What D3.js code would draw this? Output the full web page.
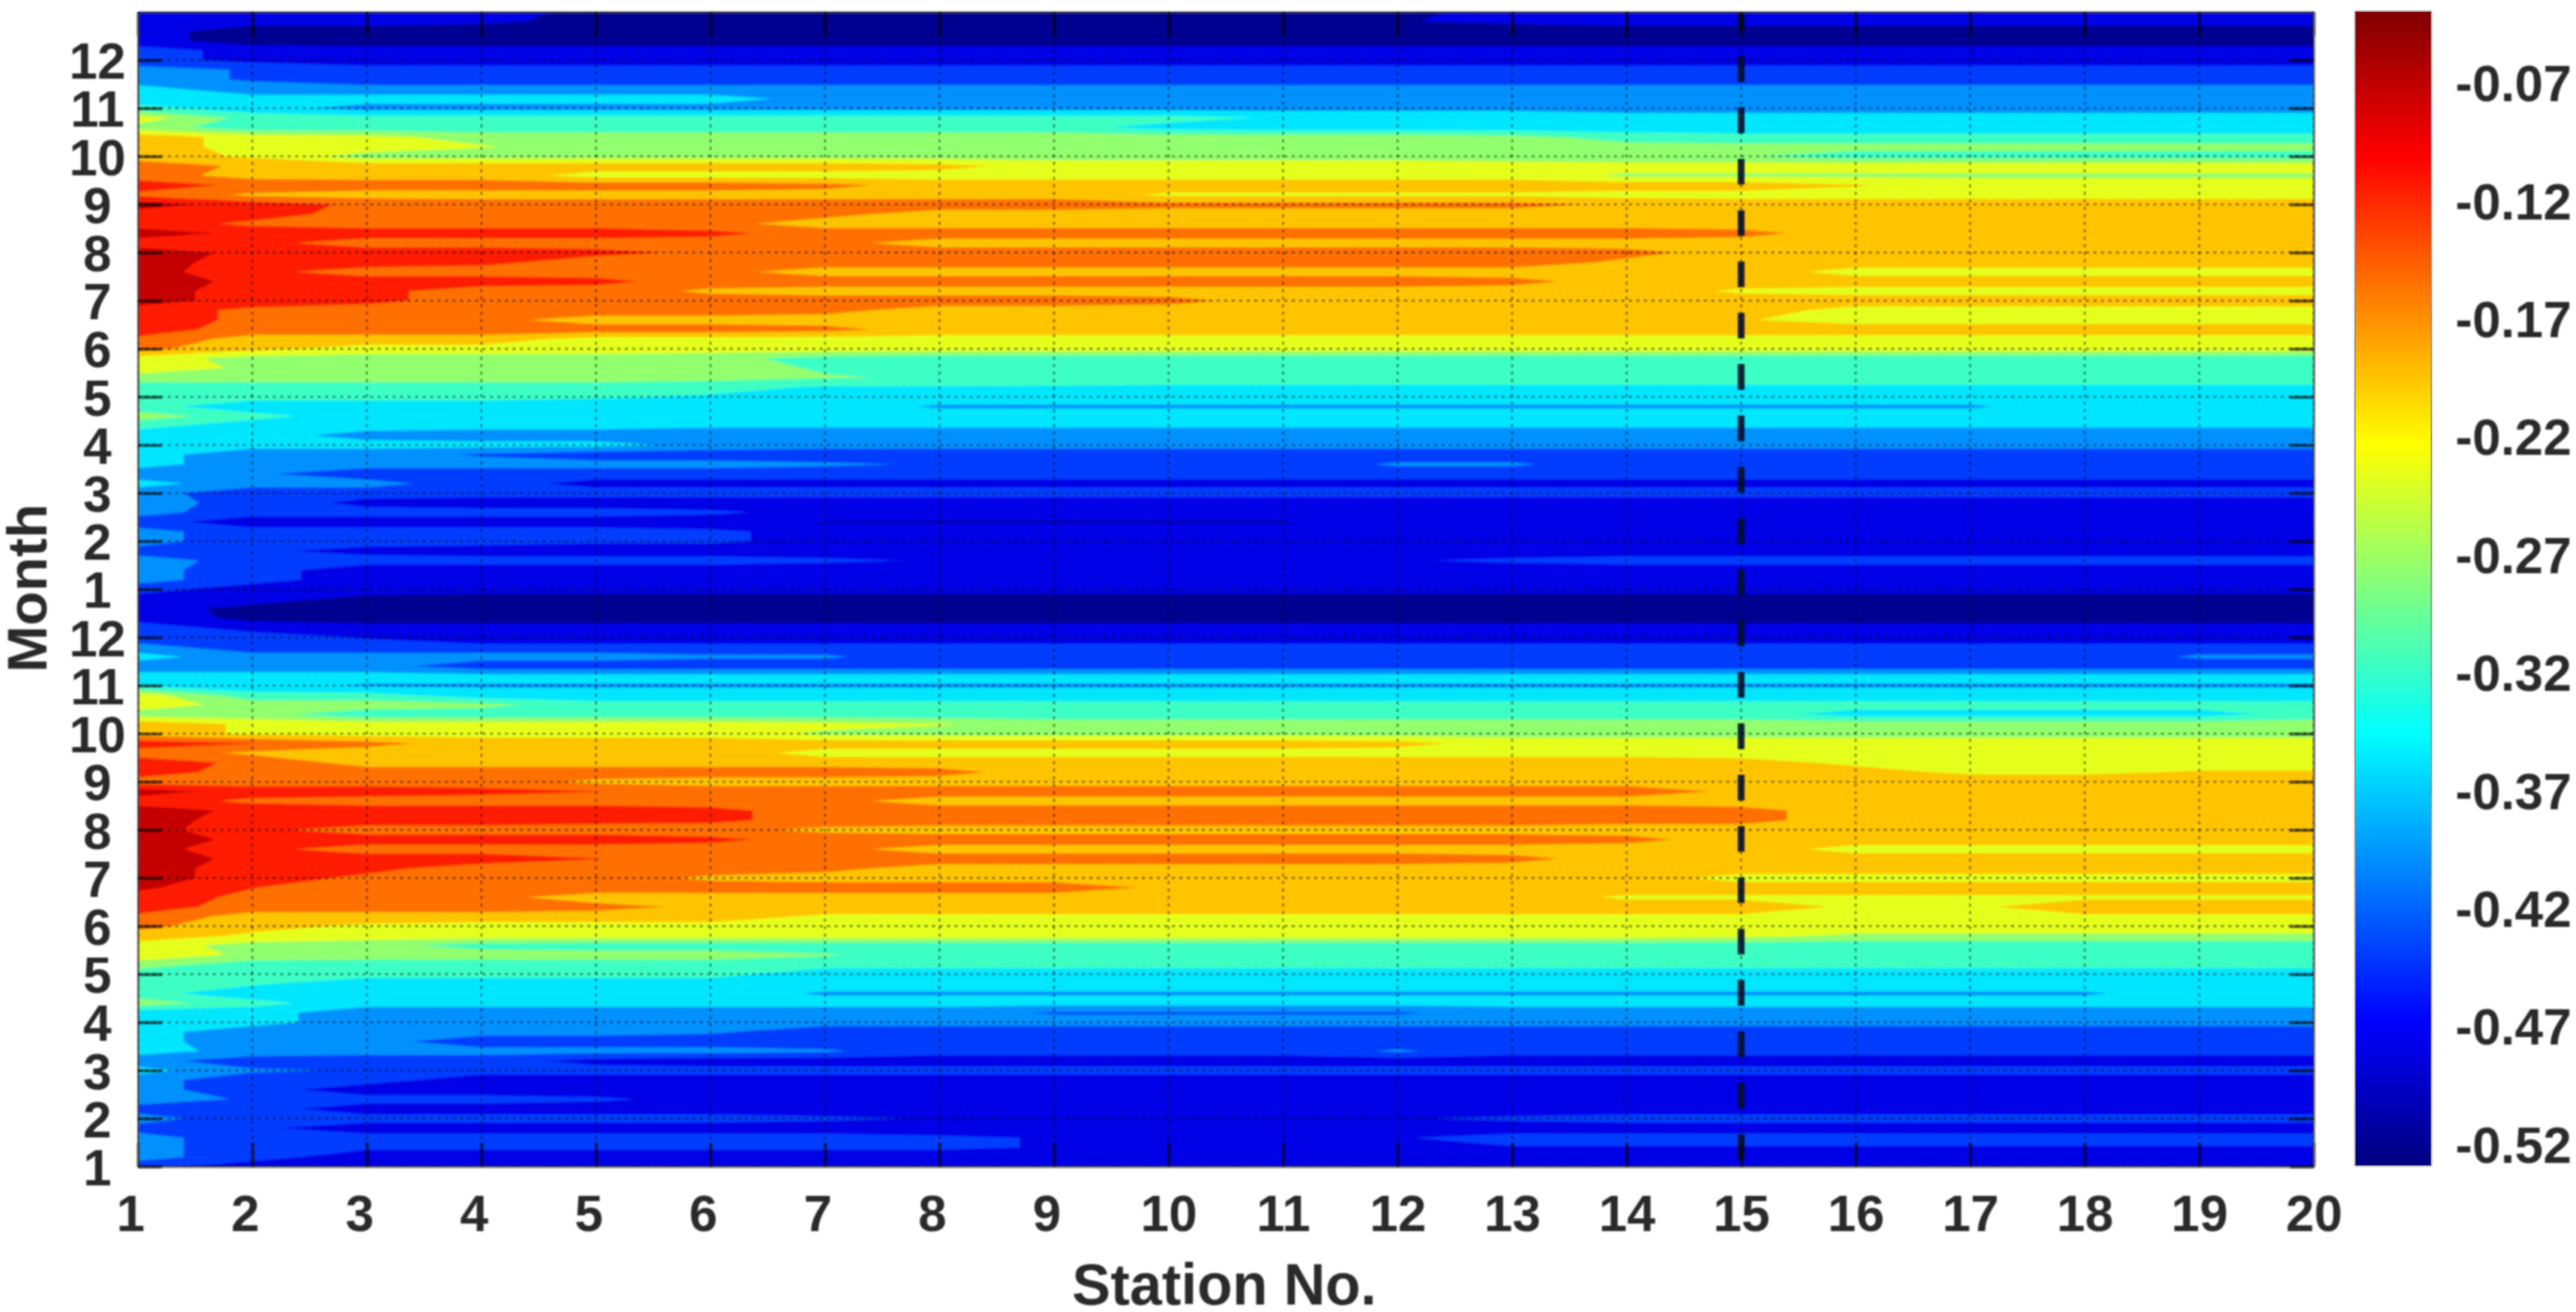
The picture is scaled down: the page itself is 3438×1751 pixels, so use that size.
<!DOCTYPE html>
<html>
<head>
<meta charset="utf-8">
<script src="https://cdn.jsdelivr.net/npm/d3@7"></script>
<style>
    body { margin: 0; background: #fff; }
    text { font-family: "Liberation Sans", Arial, sans-serif; font-weight: bold; fill: #2b2b2b; }
</style>
</head>
<body>
<svg width="3438" height="1751"></svg>
<script>
const stations = [1, 2, 3, 4, 5, 6, 7, 8, 9, 10, 11, 12, 13, 14, 15, 16, 17, 18, 19, 20];
const monthLabels = [1, 2, 3, 4, 5, 6, 7, 8, 9, 10, 11, 12, 1, 2, 3, 4, 5, 6, 7, 8, 9, 10, 11, 12];
const colorTicks = [-0.07, -0.12, -0.17, -0.22, -0.27, -0.32, -0.37, -0.42, -0.47, -0.52];
const dividerStation = [15];
const colorRange = [-0.529, -0.04];
// contour levels, same units as the colorbar
const levels = [-0.488, -0.447, -0.406, -0.366, -0.325, -0.284, -0.243, -0.203, -0.162, -0.121, -0.08];

// in hundredths. one row per 1/5 month, top of the plot first, one value per station
const rows = [
[-47,-47,-47,-47,-50,-51,-51,-51,-51,-51,-51,-50,-47,-47,-47,-47,-47,-47,-47,-47],
[-47,-47,-47,-48,-50,-51,-51,-51,-51,-51,-51,-49,-48,-47,-47,-47,-47,-47,-47,-47],
[-47,-51,-51,-51,-51,-51,-51,-51,-51,-51,-51,-51,-51,-51,-51,-51,-51,-51,-51,-51],
[-47,-51,-51,-51,-51,-51,-51,-51,-51,-51,-51,-51,-51,-51,-51,-51,-51,-51,-51,-51],
[-43,-46,-47,-47,-47,-47,-47,-47,-47,-47,-47,-47,-47,-47,-47,-47,-47,-47,-47,-47],
[-43,-46,-47,-47,-47,-47,-47,-47,-47,-47,-47,-47,-47,-47,-47,-47,-47,-47,-47,-47],
[-39,-41,-43,-43,-43,-43,-43,-43,-43,-43,-43,-43,-43,-43,-43,-43,-43,-43,-43,-43],
[-39,-41,-43,-43,-43,-43,-43,-43,-43,-43,-43,-43,-43,-43,-43,-43,-43,-43,-43,-43],
[-35,-39,-39,-39,-39,-39,-39,-39,-39,-39,-39,-39,-39,-39,-39,-39,-39,-39,-39,-39],
[-35,-35,-35,-35,-35,-35,-38,-39,-39,-39,-39,-39,-39,-39,-39,-39,-39,-39,-39,-39],
[-31,-35,-38,-38,-38,-38,-38,-38,-38,-38,-38,-38,-38,-38,-38,-38,-38,-38,-38,-38],
[-22,-30,-31,-31,-31,-31,-31,-31,-31,-31,-33,-33,-33,-35,-35,-35,-35,-35,-35,-35],
[-26,-31,-31,-31,-31,-31,-31,-31,-31,-34,-35,-35,-35,-35,-35,-35,-35,-35,-35,-35],
[-18,-22,-23,-26,-26,-26,-26,-26,-26,-26,-26,-26,-27,-30,-31,-31,-31,-31,-31,-31],
[-18,-22,-22,-24,-26,-26,-26,-26,-26,-26,-26,-26,-26,-27,-27,-27,-27,-27,-27,-27],
[-18,-21,-26,-26,-26,-26,-26,-26,-26,-26,-26,-26,-27,-28,-28,-30,-30,-30,-30,-30],
[-14,-17,-18,-18,-18,-18,-18,-19,-22,-22,-22,-22,-22,-22,-22,-22,-22,-22,-22,-22],
[-14,-18,-18,-18,-22,-22,-22,-22,-22,-22,-22,-22,-22,-25,-25,-25,-25,-25,-25,-25],
[-10,-13,-14,-14,-14,-14,-15,-18,-18,-18,-18,-18,-18,-18,-18,-20,-22,-22,-22,-22],
[-13,-17,-18,-18,-18,-18,-18,-18,-18,-21,-21,-21,-21,-22,-22,-22,-22,-22,-22,-22],
[-6,-10,-13,-14,-14,-14,-14,-14,-14,-15,-15,-15,-15,-17,-18,-18,-18,-18,-18,-18],
[-10,-10,-14,-14,-14,-14,-15,-18,-18,-18,-18,-18,-18,-18,-18,-18,-18,-18,-18,-18],
[-10,-13,-14,-14,-14,-15,-18,-18,-18,-18,-18,-18,-18,-18,-18,-18,-18,-18,-18,-18],
[-6,-9,-10,-10,-10,-11,-14,-14,-14,-14,-14,-14,-14,-14,-15,-18,-18,-18,-18,-18],
[-10,-11,-14,-14,-14,-14,-15,-18,-18,-18,-18,-18,-18,-18,-18,-18,-18,-18,-18,-18],
[-6,-9,-10,-10,-11,-13,-14,-14,-14,-14,-14,-14,-14,-15,-18,-18,-18,-20,-20,-20],
[-6,-10,-10,-11,-14,-14,-14,-14,-14,-14,-14,-14,-14,-17,-18,-18,-18,-18,-18,-18],
[-6,-11,-14,-14,-14,-15,-18,-18,-18,-18,-18,-18,-18,-18,-18,-22,-22,-22,-22,-22],
[-6,-9,-10,-10,-11,-14,-14,-14,-14,-14,-14,-14,-15,-18,-18,-18,-18,-18,-18,-18],
[-6,-10,-11,-14,-14,-17,-18,-18,-18,-18,-18,-18,-18,-18,-21,-22,-22,-22,-22,-22],
[-6,-10,-11,-14,-14,-14,-14,-14,-14,-15,-18,-18,-18,-18,-18,-18,-18,-18,-18,-18],
[-10,-13,-14,-14,-14,-14,-15,-18,-18,-18,-18,-18,-18,-18,-18,-22,-22,-22,-22,-22],
[-10,-13,-14,-15,-18,-18,-18,-18,-18,-18,-18,-18,-18,-18,-20,-22,-22,-22,-22,-22],
[-10,-14,-14,-14,-14,-14,-15,-18,-18,-18,-18,-18,-18,-18,-18,-18,-18,-18,-18,-18],
[-13,-18,-18,-18,-22,-22,-22,-22,-22,-22,-22,-22,-22,-22,-22,-22,-22,-22,-22,-22],
[-15,-19,-22,-22,-22,-22,-22,-22,-22,-22,-22,-22,-22,-22,-22,-22,-22,-22,-22,-22],
[-22,-26,-26,-26,-26,-27,-30,-31,-31,-31,-31,-31,-31,-31,-31,-31,-31,-31,-31,-31],
[-22,-25,-26,-26,-26,-26,-29,-29,-29,-31,-31,-31,-31,-29,-31,-31,-31,-29,-29,-29],
[-26,-26,-26,-26,-26,-27,-28,-29,-30,-31,-31,-31,-31,-31,-31,-31,-31,-31,-31,-31],
[-31,-31,-31,-31,-31,-31,-33,-33,-33,-33,-33,-33,-33,-33,-33,-33,-33,-33,-33,-33],
[-31,-31,-31,-31,-32,-33,-35,-35,-35,-35,-35,-35,-35,-35,-35,-35,-35,-35,-35,-35],
[-31,-35,-35,-35,-35,-35,-35,-37,-37,-37,-37,-37,-37,-37,-37,-37,-37,-35,-35,-35],
[-26,-31,-35,-35,-35,-35,-35,-35,-35,-35,-35,-35,-35,-35,-35,-35,-35,-35,-35,-35],
[-31,-35,-35,-35,-35,-36,-36,-36,-36,-36,-36,-36,-36,-36,-36,-36,-36,-36,-36,-36],
[-35,-35,-38,-39,-39,-39,-39,-39,-39,-39,-39,-39,-39,-39,-39,-39,-39,-39,-39,-39],
[-35,-35,-35,-35,-35,-38,-39,-39,-39,-39,-39,-39,-39,-39,-39,-39,-39,-39,-39,-39],
[-35,-39,-39,-41,-43,-43,-43,-43,-43,-43,-43,-43,-43,-43,-43,-43,-43,-43,-43,-43],
[-35,-39,-39,-39,-39,-39,-40,-41,-43,-43,-43,-40,-40,-43,-43,-43,-43,-43,-43,-43],
[-39,-40,-43,-43,-43,-43,-43,-43,-43,-43,-43,-43,-43,-43,-43,-43,-43,-43,-43,-43],
[-35,-39,-39,-43,-46,-46,-46,-46,-46,-46,-46,-46,-46,-46,-46,-46,-46,-46,-46,-46],
[-39,-43,-43,-43,-43,-43,-43,-43,-43,-43,-43,-43,-43,-43,-43,-43,-43,-43,-43,-43],
[-39,-42,-46,-47,-47,-47,-47,-47,-47,-47,-47,-47,-47,-47,-47,-47,-47,-47,-47,-47],
[-39,-43,-43,-43,-43,-44,-46,-47,-47,-47,-47,-47,-47,-47,-47,-47,-47,-47,-47,-47],
[-43,-47,-47,-47,-47,-47,-49,-49,-49,-49,-49,-47,-47,-47,-47,-47,-47,-47,-47,-47],
[-39,-43,-43,-43,-43,-44,-46,-47,-47,-47,-47,-47,-47,-47,-47,-47,-47,-47,-47,-47],
[-39,-43,-43,-43,-44,-44,-46,-47,-47,-47,-47,-47,-47,-47,-47,-47,-47,-47,-47,-47],
[-42,-44,-46,-47,-47,-47,-47,-47,-47,-47,-47,-47,-47,-47,-47,-47,-47,-47,-47,-47],
[-39,-42,-43,-43,-43,-43,-44,-45,-47,-47,-47,-45,-44,-43,-43,-43,-43,-43,-43,-43],
[-39,-43,-47,-47,-47,-47,-47,-47,-47,-47,-47,-47,-47,-47,-47,-47,-47,-47,-47,-47],
[-39,-43,-47,-47,-47,-47,-47,-47,-47,-47,-47,-47,-47,-47,-47,-47,-47,-47,-47,-47],
[-43,-47,-47,-47,-47,-47,-47,-47,-47,-47,-47,-47,-47,-47,-47,-47,-47,-47,-47,-47],
[-47,-47,-50,-51,-51,-51,-51,-51,-51,-51,-51,-51,-51,-51,-51,-51,-51,-51,-51,-51],
[-47,-50,-51,-51,-51,-51,-51,-51,-51,-51,-51,-51,-51,-51,-51,-51,-51,-51,-51,-51],
[-46,-50,-51,-51,-51,-51,-51,-51,-51,-51,-51,-51,-51,-51,-51,-51,-51,-51,-51,-51],
[-43,-46,-47,-47,-47,-47,-47,-47,-47,-47,-47,-47,-47,-47,-47,-47,-47,-47,-47,-47],
[-43,-43,-45,-48,-48,-48,-48,-48,-48,-48,-48,-48,-48,-48,-48,-48,-48,-48,-48,-48],
[-39,-43,-43,-43,-43,-43,-43,-43,-43,-43,-43,-43,-43,-43,-43,-43,-43,-43,-43,-43],
[-35,-39,-39,-39,-39,-40,-40,-43,-43,-43,-43,-43,-43,-43,-43,-43,-43,-43,-40,-40],
[-39,-39,-39,-43,-43,-43,-43,-43,-43,-43,-43,-43,-43,-43,-43,-43,-43,-43,-43,-43],
[-35,-35,-35,-35,-35,-35,-35,-35,-35,-35,-35,-35,-35,-35,-35,-35,-35,-35,-35,-35],
[-33,-35,-37,-37,-37,-37,-37,-37,-37,-37,-37,-37,-37,-37,-37,-37,-37,-37,-37,-37],
[-22,-31,-31,-35,-35,-35,-35,-35,-35,-35,-35,-35,-35,-35,-35,-35,-35,-35,-35,-35],
[-22,-26,-26,-27,-31,-31,-31,-31,-31,-31,-31,-31,-31,-31,-31,-31,-31,-31,-31,-31],
[-26,-27,-31,-31,-31,-31,-31,-31,-31,-31,-31,-31,-31,-31,-31,-34,-34,-34,-34,-31],
[-18,-21,-22,-22,-22,-22,-23,-24,-26,-26,-26,-26,-26,-26,-26,-26,-26,-26,-26,-26],
[-18,-21,-22,-22,-22,-22,-25,-26,-26,-26,-26,-26,-26,-26,-26,-26,-26,-26,-26,-26],
[-10,-12,-15,-18,-18,-18,-18,-18,-18,-18,-18,-19,-22,-22,-22,-22,-22,-22,-22,-22],
[-14,-17,-18,-18,-18,-18,-22,-22,-22,-22,-22,-22,-22,-22,-22,-22,-22,-22,-22,-22],
[-10,-13,-18,-18,-18,-18,-18,-18,-18,-18,-18,-18,-18,-18,-19,-21,-22,-22,-22,-22],
[-10,-14,-14,-14,-14,-14,-14,-15,-18,-18,-18,-18,-18,-18,-18,-19,-21,-21,-20,-20],
[-14,-14,-14,-14,-17,-18,-18,-18,-18,-18,-18,-18,-18,-18,-18,-18,-18,-18,-18,-18],
[-6,-10,-10,-11,-12,-14,-14,-14,-14,-14,-14,-14,-14,-14,-17,-18,-18,-18,-18,-18],
[-10,-13,-14,-14,-14,-14,-15,-18,-18,-18,-18,-18,-18,-18,-18,-18,-18,-18,-18,-18],
[-6,-9,-10,-10,-10,-11,-14,-14,-14,-14,-14,-14,-14,-14,-15,-18,-18,-18,-18,-18],
[-6,-10,-10,-10,-11,-11,-14,-14,-14,-14,-14,-14,-14,-15,-15,-18,-18,-18,-18,-18],
[-6,-11,-14,-14,-14,-15,-17,-18,-18,-18,-18,-18,-18,-18,-18,-18,-18,-18,-18,-18],
[-6,-9,-10,-10,-10,-11,-14,-14,-14,-14,-14,-14,-14,-15,-18,-18,-18,-18,-18,-18],
[-6,-11,-14,-14,-14,-14,-15,-18,-18,-18,-18,-18,-18,-18,-18,-22,-22,-22,-22,-22],
[-6,-9,-10,-10,-12,-14,-14,-14,-14,-14,-14,-14,-15,-18,-18,-18,-18,-18,-18,-18],
[-6,-10,-11,-14,-14,-14,-15,-18,-18,-18,-18,-18,-18,-18,-18,-18,-18,-18,-18,-18],
[-6,-10,-13,-14,-14,-17,-18,-18,-18,-18,-18,-18,-18,-18,-22,-22,-22,-22,-22,-22],
[-7,-12,-14,-14,-14,-14,-14,-14,-14,-17,-18,-18,-18,-18,-18,-18,-18,-18,-18,-18],
[-10,-13,-14,-15,-18,-18,-18,-18,-18,-18,-18,-18,-18,-21,-21,-21,-21,-21,-21,-21],
[-10,-14,-14,-14,-15,-17,-18,-18,-18,-18,-18,-18,-18,-18,-18,-21,-21,-18,-18,-18],
[-13,-18,-18,-18,-18,-18,-21,-21,-21,-21,-21,-21,-21,-21,-21,-21,-21,-21,-21,-21],
[-15,-19,-21,-22,-22,-22,-22,-22,-22,-22,-22,-22,-22,-22,-22,-22,-22,-22,-22,-22],
[-18,-21,-22,-22,-22,-22,-22,-22,-22,-22,-22,-22,-22,-22,-23,-25,-25,-25,-25,-25],
[-22,-26,-27,-30,-31,-31,-31,-31,-31,-31,-31,-31,-31,-31,-31,-31,-31,-31,-31,-31],
[-22,-25,-26,-26,-26,-26,-28,-31,-31,-31,-31,-31,-31,-31,-31,-31,-31,-31,-31,-31],
[-26,-31,-31,-31,-31,-31,-31,-31,-31,-31,-31,-31,-31,-31,-31,-31,-31,-31,-31,-31],
[-31,-31,-31,-31,-31,-31,-35,-35,-35,-35,-35,-35,-35,-35,-35,-35,-35,-35,-35,-35],
[-31,-32,-35,-35,-35,-35,-35,-35,-35,-35,-35,-35,-35,-35,-35,-35,-35,-35,-35,-35],
[-31,-35,-35,-35,-35,-35,-37,-37,-37,-37,-37,-37,-37,-37,-37,-37,-37,-37,-35,-35],
[-26,-31,-35,-35,-35,-35,-35,-35,-35,-35,-35,-35,-35,-35,-35,-35,-35,-35,-35,-35],
[-35,-35,-39,-39,-39,-39,-39,-39,-41,-41,-41,-41,-39,-39,-39,-39,-39,-39,-39,-39],
[-35,-35,-39,-39,-39,-39,-39,-39,-39,-39,-39,-39,-39,-39,-39,-39,-39,-39,-39,-39],
[-35,-39,-39,-39,-39,-40,-43,-43,-43,-43,-43,-43,-43,-43,-43,-43,-43,-43,-43,-43],
[-35,-39,-39,-43,-43,-43,-43,-43,-43,-43,-43,-43,-43,-43,-43,-43,-43,-43,-43,-43],
[-35,-38,-39,-39,-39,-39,-40,-43,-43,-43,-43,-40,-43,-43,-43,-43,-43,-43,-43,-43],
[-39,-43,-43,-43,-46,-47,-47,-47,-47,-47,-47,-47,-47,-47,-47,-47,-47,-47,-47,-47],
[-35,-40,-41,-43,-43,-43,-43,-43,-43,-43,-43,-43,-43,-43,-43,-43,-43,-43,-43,-43],
[-39,-43,-43,-47,-47,-47,-47,-47,-47,-47,-47,-47,-47,-47,-47,-47,-47,-47,-47,-47],
[-39,-43,-47,-47,-47,-47,-47,-47,-47,-47,-47,-47,-47,-47,-47,-47,-47,-47,-47,-47],
[-39,-41,-43,-43,-44,-46,-47,-47,-47,-47,-47,-47,-47,-47,-47,-47,-47,-47,-47,-47],
[-42,-43,-47,-47,-47,-47,-47,-47,-47,-47,-47,-47,-47,-47,-47,-47,-47,-47,-47,-47],
[-39,-43,-43,-43,-43,-43,-44,-45,-47,-47,-47,-45,-44,-43,-43,-43,-43,-43,-43,-43],
[-42,-44,-47,-47,-47,-47,-47,-47,-47,-47,-47,-47,-47,-47,-47,-47,-47,-47,-47,-47],
[-39,-43,-43,-43,-43,-43,-43,-44,-45,-47,-47,-45,-43,-43,-43,-43,-43,-43,-43,-43],
[-39,-43,-44,-44,-44,-44,-44,-44,-45,-47,-47,-45,-45,-45,-45,-45,-45,-45,-45,-45],
[-39,-43,-47,-47,-47,-47,-47,-47,-47,-47,-47,-47,-47,-47,-47,-47,-47,-47,-47,-47],
[-43,-47,-47,-47,-47,-47,-47,-47,-47,-47,-47,-47,-47,-47,-47,-47,-47,-47,-47,-47]
];

const svg = d3.select("svg");
const plot = { left: 184, right: 3088, top: 16, bottom: 1557 };
const bar = { left: 3144, right: 3244, top: 16, bottom: 1555 };

const x = d3.scaleLinear().domain([1, 20]).range([plot.left, plot.right]);
const y = d3.scaleLinear().domain([1, 25]).range([plot.bottom, plot.top]);
const c = d3.scaleLinear().domain(colorRange).range([bar.bottom, bar.top]);

// jet colormap
const jet = d3.scaleLinear()
    .domain([0, 0.125, 0.375, 0.625, 0.875, 1])
    .range(["#000080", "#0000ff", "#00ffff", "#ffff00", "#ff0000", "#800000"]);

const defs = svg.append("defs");
defs.append("clipPath").attr("id", "plotClip").append("rect")
    .attr("x", plot.left).attr("y", plot.top)
    .attr("width", plot.right - plot.left).attr("height", plot.bottom - plot.top);
defs.append("filter").attr("id", "soft").attr("x", "-5%").attr("y", "-5%").attr("width", "110%").attr("height", "110%")
    .append("feGaussianBlur").attr("stdDeviation", 1.8);
defs.append("filter").attr("id", "softText")
    .attr("filterUnits", "userSpaceOnUse").attr("x", 0).attr("y", 0).attr("width", 3438).attr("height", 1751)
    .append("feGaussianBlur").attr("stdDeviation", 0.9);

const grad = defs.append("linearGradient").attr("id", "jetBar")
    .attr("x1", 0).attr("y1", 1).attr("x2", 0).attr("y2", 0);
grad.selectAll("stop").data(d3.range(0, 1.001, 0.025)).join("stop")
    .attr("offset", d => d)
    .attr("stop-color", d => jet(d));

// grid index -> page position, d3.contours puts sample i at i + 0.5
const nx = stations.length, ny = rows.length;
const gridX = d3.scaleLinear().domain([0.5, nx - 0.5]).range([plot.left, plot.right]);
const gridY = d3.scaleLinear().domain([0.5, ny - 0.5]).range([plot.top, plot.bottom]);
const path = d3.geoPath(d3.geoTransform({
    point(px, py) { this.stream.point(gridX(px), gridY(py)); }
}));

const contours = d3.contours().size([nx, ny]).thresholds(levels)(rows.flat().map(v => v / 100));
// colour of the band that starts at each level
const bandColor = k => jet((k + 0.2) / 12);

const field = svg.append("g").attr("clip-path", "url(#plotClip)");
const bands = field.append("g").attr("filter", "url(#soft)");
bands.append("rect")
    .attr("x", plot.left - 20).attr("y", plot.top - 20)
    .attr("width", plot.right - plot.left + 40).attr("height", plot.bottom - plot.top + 40)
    .attr("fill", bandColor(0));
bands.selectAll("path").data(contours).join("path")
    .attr("d", path)
    .attr("fill", (d, i) => bandColor(i + 1));

//dotted grid
const grid = field.append("g").attr("filter", "url(#softText)")
    .attr("stroke", "#000").attr("stroke-opacity", 0.5)
    .attr("stroke-width", 2.4).attr("stroke-dasharray", "4 6");
grid.selectAll(".gx").data(stations).join("line").attr("class", "gx")
    .attr("x1", d => x(d)).attr("x2", d => x(d)).attr("y1", plot.top).attr("y2", plot.bottom);
grid.selectAll(".gy").data(d3.range(1, monthLabels.length + 1)).join("line").attr("class", "gy")
    .attr("y1", d => y(d)).attr("y2", d => y(d)).attr("x1", plot.left).attr("x2", plot.right);

field.append("g").attr("filter", "url(#softText)")
    .selectAll(".divider").data(dividerStation).join("line").attr("class", "divider")
    .attr("x1", d => x(d)).attr("x2", d => x(d)).attr("y1", plot.top).attr("y2", plot.bottom)
    .attr("stroke", "#06122a").attr("stroke-opacity", 0.9).attr("stroke-width", 9)
    .attr("stroke-dasharray", "34.2 34.3").attr("stroke-dashoffset", 9.5);

// axes, ticks point into the plot
const tickLen = 32;
const monthTicks = d3.range(1, monthLabels.length + 1);
const axisStyle = g => {
    g.select(".domain").attr("stroke", "#555").attr("stroke-width", 2.5);
    g.selectAll(".tick line").attr("stroke", "#000").attr("stroke-opacity", 0.6).attr("stroke-width", 4);
    g.selectAll("text").attr("font-size", 68);
};

const ink = svg.append("g").attr("filter", "url(#softText)");

ink.append("g").attr("transform", `translate(0,${plot.bottom})`)
    .call(d3.axisBottom(x).tickValues(stations).tickFormat(d => d).tickSizeInner(-tickLen).tickSizeOuter(0))
    .call(axisStyle)
    .call(g => g.selectAll("text").attr("y", 86).attr("dy", 0).attr("dx", d => d < 10 ? -10 : 0));

ink.append("g").attr("transform", `translate(0,${plot.top})`)
    .call(d3.axisTop(x).tickValues(stations).tickFormat("").tickSizeInner(-tickLen).tickSizeOuter(0))
    .call(axisStyle);

// month labels are centred on one column
ink.append("g").attr("transform", `translate(${plot.left},0)`)
    .call(d3.axisLeft(y).tickValues(monthTicks).tickFormat(d => monthLabels[d - 1]).tickSizeInner(-tickLen).tickSizeOuter(0))
    .call(axisStyle)
    .call(g => g.selectAll("text").attr("x", -54).attr("dy", "0.36em").attr("text-anchor", "middle"));

ink.append("g").attr("transform", `translate(${plot.right},0)`)
    .call(d3.axisRight(y).tickValues(monthTicks).tickFormat("").tickSizeInner(-tickLen).tickSizeOuter(0))
    .call(axisStyle);

//colorbar
svg.append("rect")
    .attr("x", bar.left).attr("y", bar.top)
    .attr("width", bar.right - bar.left).attr("height", bar.bottom - bar.top)
    .attr("fill", "url(#jetBar)");

ink.append("rect")
    .attr("x", bar.left).attr("y", bar.top)
    .attr("width", bar.right - bar.left).attr("height", bar.bottom - bar.top)
    .attr("fill", "none").attr("stroke", "#555").attr("stroke-width", 2.5);

ink.append("g").attr("transform", `translate(${bar.right},0)`)
    .call(d3.axisRight(c).tickValues(colorTicks).tickFormat(d => d.toFixed(2)).tickSizeInner(-20).tickSizeOuter(0))
    .call(axisStyle)
    .call(g => g.select(".domain").remove())
    .call(g => g.selectAll("text").attr("x", 33).attr("dy", "0.36em"));

ink.append("text")
    .attr("x", 1634).attr("y", 1741)
    .attr("text-anchor", "middle").attr("font-size", 77)
    .text("Station No.");

ink.append("text")
    .attr("transform", "translate(62,785) rotate(-90)")
    .attr("text-anchor", "middle").attr("font-size", 75)
    .text("Month");
</script>
</body>
</html>
